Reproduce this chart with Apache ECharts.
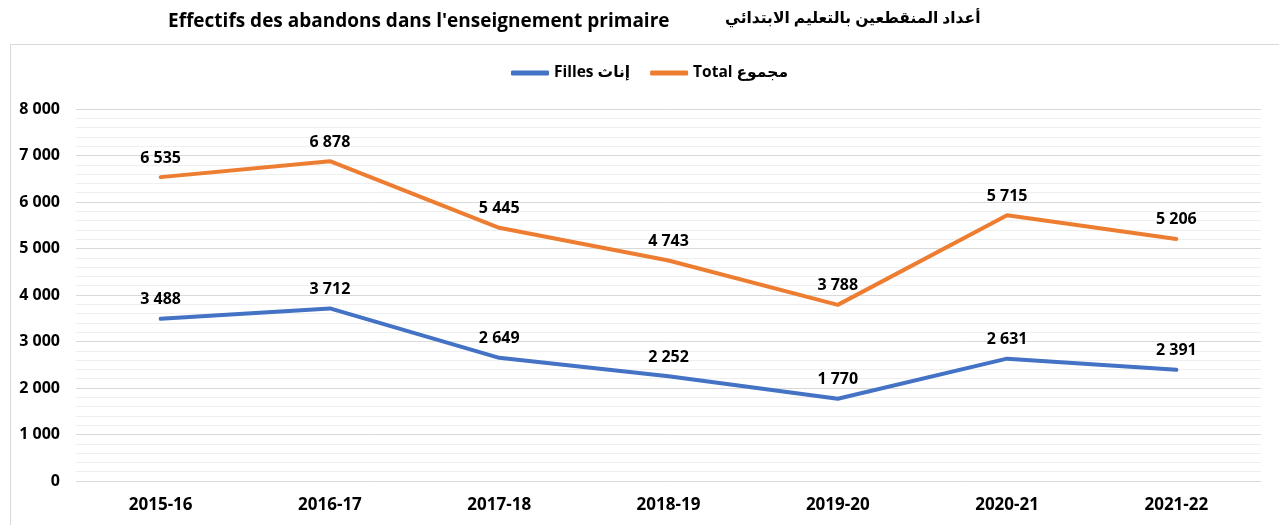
<!DOCTYPE html>
<html><head><meta charset="utf-8">
<script src="https://cdn.jsdelivr.net/npm/echarts@6/dist/echarts.min.js"></script>
<style>html,body{margin:0;padding:0;background:#fff}#c{width:1279px;height:525px}</style>
</head><body><div id="c"></div>
<script>
const categories = ['2015-16','2016-17','2017-18','2018-19','2019-20','2020-21','2021-22'];
const filles = [3488, 3712, 2649, 2252, 1770, 2631, 2391];
const total = [6535, 6878, 5445, 4743, 3788, 5715, 5206];
const seriesNames = ['Filles إناث', 'Total مجموع'];
const titleFr = "Effectifs des abandons dans l'enseignement primaire";
const titleAr = 'أعداد المنقطعين بالتعليم الابتدائي';

const fmt = v => String(v).replace(/\B(?=(\d{3})+(?!\d))/g, ' ');
const font = '"Open Sans", "DejaVu Sans", sans-serif';
const lbl = {show: true, position: 'top', distance: 11, formatter: p => fmt(p.value), fontSize: 16, fontWeight: 'bold', color: '#000', fontFamily: font};
const colors = ['#4472C4', '#ED7D31'];
const chart = echarts.init(document.getElementById('c'), null, {renderer: 'canvas'});
chart.setOption({
  animation: false,
  backgroundColor: '#fff',
  textStyle: {fontFamily: font},
  title: [
    {text: titleFr, left: 163, top: 7, textStyle: {fontSize: 19, fontWeight: 'bold', color: '#000', fontFamily: font}},
    {text: titleAr, left: 720, top: 6, textStyle: {fontSize: 15.5, fontWeight: 'bold', color: '#000', fontFamily: font}}
  ],
  graphic: [{type: 'rect', left: 8, top: 42, shape: {width: 1300, height: 520}, style: {fill: 'none', stroke: '#d9d9d9', lineWidth: 1}, silent: true, z: -1}],
  legend: {
    top: 60, left: 506, itemGap: 20, itemWidth: 38, itemHeight: 5,
    data: seriesNames.map((n, i) => ({name: n, icon: 'roundRect', itemStyle: {color: colors[i], opacity: 1}})),
    textStyle: {fontSize: 15.5, fontWeight: 'bold', color: '#000', fontFamily: font}
  },
  grid: {left: 76, right: 18, top: 109, bottom: 44, containLabel: false},
  xAxis: {
    type: 'category', data: categories, boundaryGap: true,
    axisLine: {show: false}, axisTick: {show: false},
    axisLabel: {fontSize: 17, fontWeight: 'bold', color: '#000', margin: 16, fontFamily: font}
  },
  yAxis: {
    type: 'value', min: 0, max: 8000, interval: 1000,
    axisLine: {show: false}, axisTick: {show: false},
    axisLabel: {formatter: fmt, fontSize: 16, fontWeight: 'bold', color: '#000', margin: 16, fontFamily: font},
    splitLine: {lineStyle: {color: '#d9d9d9', width: 1}},
    minorTick: {show: false, splitNumber: 5},
    minorSplitLine: {show: true, lineStyle: {color: '#efefef', width: 1}}
  },
  series: [
    {name: seriesNames[0], type: 'line', data: filles, symbol: 'circle', symbolSize: 0.1, showSymbol: true,
     itemStyle: {color: colors[0]},
     lineStyle: {width: 4, color: colors[0], cap: 'round'}, label: lbl},
    {name: seriesNames[1], type: 'line', data: total, symbol: 'circle', symbolSize: 0.1, showSymbol: true,
     itemStyle: {color: colors[1]},
     lineStyle: {width: 4, color: colors[1], cap: 'round'}, label: lbl}
  ]
});
</script></body></html>
